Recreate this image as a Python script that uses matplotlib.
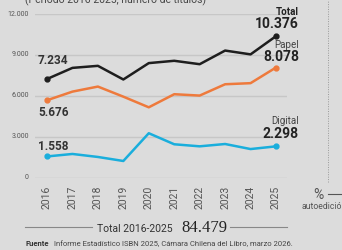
import numpy as np
import matplotlib
matplotlib.use("Agg")
import matplotlib.pyplot as plt

# Datos (número de títulos ISBN por año)
years = [2016, 2017, 2018, 2019, 2020, 2021, 2022, 2023, 2024, 2025]
total = [7234, 8050, 8200, 7200, 8400, 8570, 8320, 9320, 9040, 10376]
papel = [5676, 6310, 6680, 5940, 5160, 6120, 6020, 6850, 6930, 8078]
digital = [1558, 1740, 1520, 1225, 3260, 2450, 2300, 2470, 2100, 2298]
yticks = [0, 3000, 6000, 9000, 12000]
ytick_labels = ["0", "3.000", "6.000", "9.000", "12.000"]

BG = "#dcdcdc"
C_TOTAL = "#1e1e1e"
C_PAPEL = "#ee7a3c"
C_DIGITAL = "#1aaedc"
NARROW = ["Liberation Sans Narrow", "Roboto", "DejaVu Sans"]

W, H = 342, 250
fig = plt.figure(figsize=(W / 100, H / 100), dpi=100)
fig.patch.set_facecolor(BG)

def px(x, y):
    return x / W, 1 - y / H

# Ejes: 12.000 en y=14 px, 0 en y=177.7 px; gridlines de x=35 a 287 px
left, right = 35, 287
top, bottom = 14, 177.7
ax = fig.add_axes([left / W, 1 - bottom / H, (right - left) / W, (bottom - top) / H])
ax.set_facecolor("none")
ax.set_ylim(0, 12000)
step = (276 - 47) / 9
ax.set_xlim(2016 - (47 - left) / step, 2025 + (right - 276) / step)
for s in ax.spines.values():
    s.set_visible(False)
ax.set_xticks([])
ax.set_yticks([])

for v in yticks:
    ax.axhline(v, color="#c7c7c7", lw=1.0, zorder=1)

ax.plot(years, total, color=C_TOTAL, lw=1.8, zorder=3)
ax.plot(years, papel, color=C_PAPEL, lw=1.8, zorder=3)
ax.plot(years, digital, color=C_DIGITAL, lw=1.8, zorder=3)
for serie, c in [(total, C_TOTAL), (papel, C_PAPEL), (digital, C_DIGITAL)]:
    ax.plot([years[0], years[-1]], [serie[0], serie[-1]], "o", color=c, ms=3.5, zorder=4)

# Etiquetas del eje y
for v, lab in zip(yticks, ytick_labels):
    ax.text(2016 - (47 - 29) / step, v, lab, ha="right", va="center",
            fontsize=5, color="#555555", family=NARROW, clip_on=False)

# Años rotados
for yr in years:
    ax.text(yr, -600, str(yr), rotation=90, ha="center", va="top",
            fontsize=7.5, color="#555555", family=NARROW, clip_on=False)

def fmt(v):
    return f"{v:,}".replace(",", ".")

# Valores iniciales
x0 = 2016 - (47 - 38) / step
ax.text(x0, total[0] + 1330, fmt(total[0]), ha="left", va="center",
        fontsize=8.5, fontweight="bold", color="#333333", family=NARROW)
ax.text(x0, papel[0] - 860, fmt(papel[0]), ha="left", va="center",
        fontsize=8.5, fontweight="bold", color="#333333", family=NARROW)
ax.text(x0, digital[0] + 710, fmt(digital[0]), ha="left", va="center",
        fontsize=8.5, fontweight="bold", color="#333333", family=NARROW)

# Valores finales a la derecha
xr = 2025 + (299 - 276) / step
ax.text(xr, 12150, "Total", ha="right", va="center", fontsize=7,
        fontweight="bold", color="#222222", family=NARROW, clip_on=False)
ax.text(xr, 11270, fmt(total[-1]), ha="right", va="center", fontsize=10,
        fontweight="bold", color="#222222", family=NARROW)
ax.text(xr, 9730, "Papel", ha="right", va="center", fontsize=7,
        color="#444444", family=NARROW)
ax.text(xr, 8850, fmt(papel[-1]), ha="right", va="center", fontsize=10,
        fontweight="bold", color="#222222", family=NARROW)
ax.text(xr, 4160, "Digital", ha="right", va="center", fontsize=7,
        color="#444444", family=NARROW)
ax.text(xr, 3200, fmt(digital[-1]), ha="right", va="center", fontsize=10,
        fontweight="bold", color="#222222", family=NARROW)

# Subtítulo cortado arriba
fig.text(*px(25, 3), "(Período 2016-2025, número de títulos)", ha="left",
         va="baseline", fontsize=7.5, color="#444444", family=NARROW)

# Total del periodo
fig.add_artist(plt.Line2D([25 / W, 92 / W], [1 - 227 / H] * 2, color="#888888", lw=0.8))
fig.add_artist(plt.Line2D([230 / W, 287 / W], [1 - 227 / H] * 2, color="#888888", lw=0.8))
fig.text(*px(97, 232), "Total 2016-2025", ha="left", va="baseline",
         fontsize=7.5, color="#333333", family=NARROW)
fig.text(*px(181, 232), "84.479", ha="left", va="baseline",
         fontsize=12, color="#222222", family=["Liberation Serif", "DejaVu Serif"])

# Fuente
fig.text(*px(26, 246), "Fuente", ha="left", va="baseline", fontsize=5.5,
         fontweight="bold", color="#333333", family=NARROW)
fig.text(*px(54, 246), "Informe Estadístico ISBN 2025, Cámara Chilena del Libro, marzo 2026.",
         ha="left", va="baseline", fontsize=5.5, color="#444444", family=NARROW)

# Panel vecino (recortado) a la derecha
fig.add_artist(plt.Line2D([328 / W, 328 / W], [1 - 182 / H, 1.0], color="#999999",
                          lw=0.7, ls=(0, (1, 1.5))))
fig.text(*px(318, 199), "%", ha="center", va="baseline", fontsize=10,
         color="#555555", family=NARROW)
fig.add_artist(plt.Line2D([328 / W, 1.0], [1 - 194 / H] * 2, color="#555555", lw=0.8))
fig.text(*px(302, 209), "autoedición", ha="left", va="baseline", fontsize=6.2,
         color="#555555", family=NARROW)

fig.savefig("out.png", dpi=100, facecolor=BG)
